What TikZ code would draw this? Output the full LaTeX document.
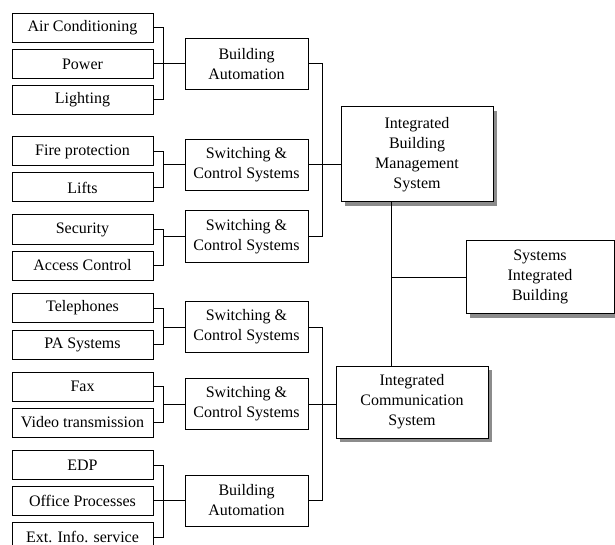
\documentclass[tikz,border=0pt]{standalone}
\usepackage{fontspec}
\setmainfont{Liberation Serif}
\usetikzlibrary{positioning,shadows}
\tikzset{
    leaf/.style={draw, line width=1pt, minimum width=141pt, minimum height=29pt, inner sep=1pt},
    group/.style={draw, line width=1pt, minimum width=123pt, minimum height=51pt, align=center, inner sep=1pt},
    sys/.style={draw, line width=1pt, fill=white, align=center, inner sep=1pt,
        drop shadow={shadow xshift=4pt, shadow yshift=-4pt, fill=black!45, opacity=1}},
    wire/.style={draw, line width=1pt}
}

\begin{document}
\begin{tikzpicture}[x=1pt, y=-1pt, font=\fontsize{16}{20}\selectfont]
    \clip (0,0) rectangle (615,545);
    \fill[white] (0,0) rectangle (615,545);

    % Nodes
    \node[leaf] (Air) at (82.5,28) {Air Conditioning};
    \node[leaf] (Power) at (82.5,64) {Power};
    \node[leaf] (Light) at (82.5,100) {Lighting};
    \node[leaf] (Fire) at (82.5,151.5) {Fire protection};
    \node[leaf] (Lifts) at (82.5,187.5) {Lifts};
    \node[leaf] (Secu) at (82.5,229.5) {Security};
    \node[leaf] (Access) at (82.5,265.5) {Access Control};
    \node[leaf] (Tel) at (82.5,308) {Telephones};
    \node[leaf] (PA) at (82.5,344.5) {PA Systems};
    \node[leaf] (Fax) at (82.5,386.5) {Fax};
    \node[leaf] (Video) at (82.5,422.5) {Video transmission};
    \node[leaf] (EDP) at (82.5,465) {EDP};
    \node[leaf] (Office) at (82.5,500.5) {Office Processes};
    \node[leaf] (Ext) at (82.5,537) {Ext. Info. service};

    \node[group] (BAa) at (246.5,64) {Building\\Automation};
    \node[group] (SCa) at (246.5,165) {Switching \&\\Control Systems};
    \node[group] (SCb) at (246.5,236.5) {Switching \&\\Control Systems};
    \node[group] (SCc) at (246.5,327) {Switching \&\\Control Systems};
    \node[group] (SCd) at (246.5,404) {Switching \&\\Control Systems};
    \node[group] (BAb) at (246.5,500.5) {Building\\Automation};

    \node[sys, minimum width=152pt, minimum height=95pt] (IBMS) at (417,154.5) {Integrated\\Building\\Management\\System};
    \node[sys, minimum width=148pt, minimum height=73pt] (SIB) at (540,277) {Systems\\Integrated\\Building};
    \node[sys, minimum width=152pt, minimum height=72pt] (ICS) at (412,402) {Integrated\\Communication\\System};
    \coordinate (J) at (391,277);

    % edges
    \draw[wire] (Air.east) -- ++(10,0) |- (Light.east);
    \draw[wire] (Power.east) -- (BAa.west);
    \draw[wire] (Fire.east) -- ++(10,0) |- (Lifts.east);
    \draw[wire] (SCa.west) -- ++(-22,0);
    \draw[wire] (Secu.east) -- ++(10,0) |- (Access.east);
    \draw[wire] (SCb.west) -- ++(-22,0);
    \draw[wire] (Tel.east) -- ++(10,0) |- (PA.east);
    \draw[wire] (SCc.west) -- ++(-22,0);
    \draw[wire] (Fax.east) -- ++(10,0) |- (Video.east);
    \draw[wire] (SCd.west) -- ++(-22,0);
    \draw[wire] (EDP.east) -- ++(10,0) |- (Ext.east);
    \draw[wire] (Office.east) -- (BAb.west);

    \draw[wire] (BAa.east) -- ++(14,0) |- (SCb.east);
    \draw[wire] (SCa.east) -- (SCa.east -| IBMS.west);
    \draw[wire] (SCc.east) -- ++(14,0) |- (BAb.east);
    \draw[wire] (SCd.east) -- (SCd.east -| ICS.west);

    \draw[wire] (J |- IBMS.south) -- (J |- ICS.north);
    \draw[wire] (J) -- (SIB.west);
\end{tikzpicture}
\end{document}
